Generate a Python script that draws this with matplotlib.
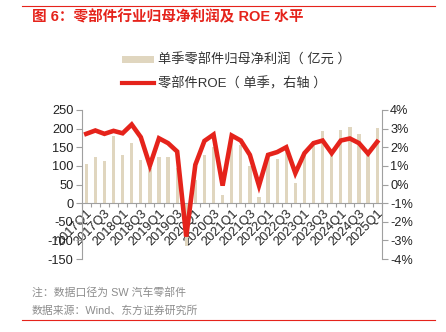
import matplotlib
matplotlib.use("Agg")
import matplotlib.pyplot as plt
from matplotlib.lines import Line2D
from matplotlib.patches import Patch
import numpy as np

plt.rcParams['font.family'] = ['Liberation Sans', 'Noto Sans CJK SC', 'DejaVu Sans']
plt.rcParams['axes.unicode_minus'] = False

quarters = [f"{y}Q{q}" for y in range(2017, 2025) for q in range(1, 5)] + ["2025Q1"]
profit = [105, 125, 113, 180, 130, 161, 116, 95, 123, 124, 94, -116, 61, 130, 152, 22,
          170, 156, 100, 16, 125, 119, 145, 55, 140, 160, 194, 140, 197, 204, 186, 140, 201]
roe = [2.72, 2.90, 2.72, 2.88, 2.75, 3.22, 2.54, 1.02, 2.48, 2.22, 1.77, -2.80, 1.06, 2.34, 2.68, -0.06,
       2.63, 2.36, 1.59, -0.06, 1.59, 1.74, 2.00, 0.61, 1.68, 2.22, 2.36, 1.68, 2.36, 2.47, 2.22, 1.66, 2.29]
left_ticks = [-150, -100, -50, 0, 50, 100, 150, 200, 250]
right_ticks = [-4, -3, -2, -1, 0, 1, 2, 3, 4]

title = "图 6：零部件行业归母净利润及 ROE 水平"
bar_label = "单季零部件归母净利润（ 亿元 ）"
line_label = "零部件ROE（ 单季，右轴 ）"
note1 = "注：数据口径为 SW 汽车零部件"
note2 = "数据来源：Wind、东方证券研究所"

BAR_C = "#E0D6BF"
RED = "#E5231B"
GRAY = "#A0A0A0"

fig = plt.figure(figsize=(4.46, 3.32), dpi=100)
W, H = 446, 332
ax = fig.add_axes([81.7 / W, (H - 259) / H, 300 / W, 149 / H])
x = np.arange(len(quarters))
ax.bar(x, profit, width=0.36, color=BAR_C, zorder=2)
ax.set_xlim(-0.5, len(quarters) - 0.5)
ax.set_ylim(-150, 250)
ax.set_yticks(left_ticks)
ax.set_yticklabels([str(v) for v in left_ticks])
for s in ["top", "right"]:
    ax.spines[s].set_visible(False)
ax.spines["left"].set_color(GRAY)
ax.spines["bottom"].set_color(GRAY)
ax.spines["bottom"].set_position(("data", 0))
ax.tick_params(axis="y", colors=GRAY, labelcolor="#222222", labelsize=9.2, length=4, width=0.8, pad=2)
ax.set_xticks(x[::2])
ax.set_xticklabels(quarters[::2], rotation=45, ha="right", rotation_mode="anchor")
ax.tick_params(axis="x", length=0, labelsize=9.2, labelcolor="#222222", pad=3)
ax.set_xticks(np.arange(-0.5, len(quarters), 1.0), minor=True)
ax.tick_params(axis="x", which="minor", length=3, color=GRAY, width=0.8)

ax2 = ax.twinx()
ax2.plot(x, roe, color=RED, lw=3.3, solid_joinstyle="miter", zorder=3)
ax2.set_ylim(-4, 4)
ax2.set_yticks(right_ticks)
ax2.set_yticklabels([f"{v}%" for v in right_ticks])
for s in ["top", "left", "bottom"]:
    ax2.spines[s].set_visible(False)
ax2.spines["right"].set_color(GRAY)
ax2.tick_params(axis="y", colors=GRAY, labelcolor="#222222", labelsize=9.2, length=4, width=0.8, pad=2)

handles = [Patch(facecolor=BAR_C, edgecolor="none"), Line2D([0], [0], color=RED, lw=3)]
leg = fig.legend(handles, [bar_label, line_label], loc="upper left",
                 bbox_to_anchor=(122 / W, 1 - 54 / H), frameon=False, fontsize=9.5,
                 handlelength=2.4, handleheight=0.5, handletextpad=0.3, labelspacing=0.75,
                 borderaxespad=0, borderpad=0)
for t in leg.get_texts():
    t.set_color("#333333")

fig.text(32 / W, 1 - 17 / H, title, color=RED, fontsize=10.5, fontweight="bold", va="center", ha="left")
fig.add_artist(Line2D([22 / W, 435 / W], [1 - 6 / H, 1 - 6 / H], color=RED, lw=0.8))
fig.add_artist(Line2D([22 / W, 435 / W], [1 - 320 / H, 1 - 320 / H], color=RED, lw=0.8))
fig.text(32 / W, 1 - 293 / H, note1, color="#8C8C8C", fontsize=7.8, va="center", ha="left")
fig.text(32 / W, 1 - 311 / H, note2, color="#8C8C8C", fontsize=7.8, va="center", ha="left")

fig.savefig("out.png", dpi=100, facecolor="white")
